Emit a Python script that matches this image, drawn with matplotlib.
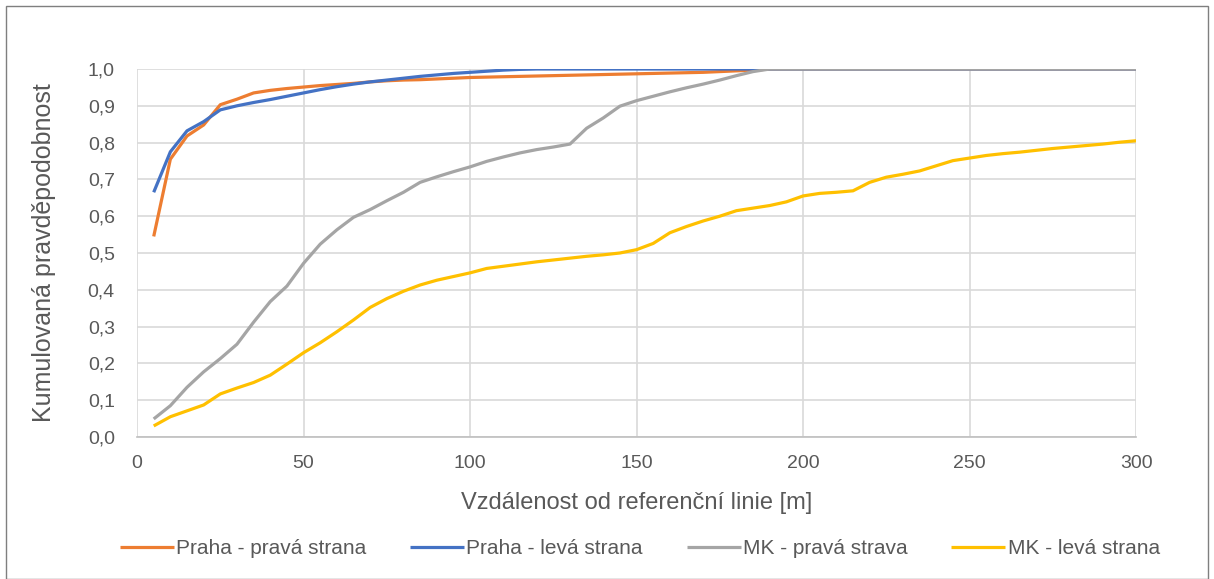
import numpy as np
import matplotlib
import matplotlib.pyplot as plt
from matplotlib.patches import Rectangle
from matplotlib.ticker import FuncFormatter

matplotlib.use('agg')

### data: cumulative probability vs. distance from reference line
vzdalenost = list(range(5, 305, 5))

praha_prava = [0.545, 0.755, 0.818, 0.848, 0.903, 0.918, 0.935, 0.942, 0.947, 0.951,
               0.955, 0.958, 0.961, 0.965, 0.968, 0.970, 0.971, 0.973, 0.975, 0.977,
               0.978, 0.979, 0.980, 0.981, 0.982, 0.983, 0.984, 0.985, 0.986, 0.987,
               0.988, 0.989, 0.990, 0.991, 0.993, 0.995, 0.997, 1.0] + [1.0] * 22

praha_leva = [0.665, 0.775, 0.832, 0.857, 0.889, 0.900, 0.909, 0.917, 0.926, 0.935,
              0.944, 0.952, 0.959, 0.965, 0.970, 0.975, 0.980, 0.984, 0.988, 0.991,
              0.994, 0.997, 0.999, 1.0] + [1.0] * 36

mk_prava = [0.049, 0.085, 0.135, 0.177, 0.213, 0.252, 0.312, 0.368, 0.410, 0.472,
            0.524, 0.563, 0.597, 0.618, 0.642, 0.665, 0.692, 0.707, 0.721, 0.734,
            0.749, 0.761, 0.772, 0.781, 0.788, 0.796, 0.839, 0.867, 0.899, 0.914,
            0.926, 0.938, 0.949, 0.959, 0.970, 0.982, 0.993, 1.0] + [1.0] * 22

mk_leva = [0.030, 0.055, 0.071, 0.087, 0.117, 0.133, 0.148, 0.168, 0.198, 0.229,
           0.256, 0.286, 0.318, 0.352, 0.376, 0.396, 0.413, 0.426, 0.436, 0.446,
           0.458, 0.464, 0.470, 0.476, 0.481, 0.486, 0.491, 0.495, 0.500, 0.509,
           0.526, 0.555, 0.572, 0.587, 0.600, 0.615, 0.622, 0.629, 0.639, 0.655,
           0.662, 0.665, 0.669, 0.692, 0.706, 0.714, 0.723, 0.737, 0.751, 0.758,
           0.765, 0.770, 0.774, 0.779, 0.784, 0.788, 0.792, 0.796, 0.801, 0.805]

series = [('Praha - pravá strana', praha_prava, '#ED7D31'),
          ('Praha - levá strana', praha_leva, '#4472C4'),
          ('MK - pravá strava', mk_prava, '#A5A5A5'),
          ('MK - levá strana', mk_leva, '#FFC000')]

plt.rcParams['font.family'] = ['Liberation Sans', 'DejaVu Sans']
txt = '#595959'

fig = plt.figure(figsize=(12.14, 5.79), dpi=100)
ax = fig.add_axes([0.1129, 0.2453, 0.8229, 0.6355])

for name, vals, col in series:
    ax.plot(vzdalenost, vals, color=col, lw=2.3, label=name, solid_capstyle='butt')

ax.set_xlim(0, 300)
ax.set_ylim(0, 1.0)
ax.set_xticks(np.arange(0, 301, 50))
ax.set_yticks(np.arange(0, 1.01, 0.1))
ax.yaxis.set_major_formatter(FuncFormatter(lambda v, p: f'{v:.1f}'.replace('.', ',')))
ax.grid(True, color='#d9d9d9', lw=1.2)
ax.set_axisbelow(True)
for s in ['top', 'right', 'left']:
    ax.spines[s].set_visible(False)
ax.spines['bottom'].set_color('#bfbfbf')
ax.spines['bottom'].set_linewidth(1.2)
ax.tick_params(length=0, labelsize=14, colors=txt)
ax.tick_params(axis='y', pad=16)
ax.tick_params(axis='x', pad=13)

ax.set_xlabel('Vzdálenost od referenční linie [m]', fontsize=17, color=txt)
ax.set_ylabel('Kumulovaná pravděpodobnost', fontsize=18, color=txt)
ax.xaxis.set_label_coords(0.5, -0.149)
ax.yaxis.set_label_coords(-0.081, 0.5)

fig.legend(loc='center', bbox_to_anchor=(0.527, 0.053), ncol=4, frameon=False,
           fontsize=15, handlelength=2.6, handletextpad=0.1, columnspacing=2.1,
           labelcolor=txt)

# thin frame around the whole chart area
fig.patches.append(Rectangle((6 / 1214, 0.0), 1 - 12 / 1214, 1 - 6 / 579,
                             transform=fig.transFigure, fill=False,
                             edgecolor='#7f7f7f', lw=1))

fig.savefig('out.png', dpi=100, facecolor='white')
